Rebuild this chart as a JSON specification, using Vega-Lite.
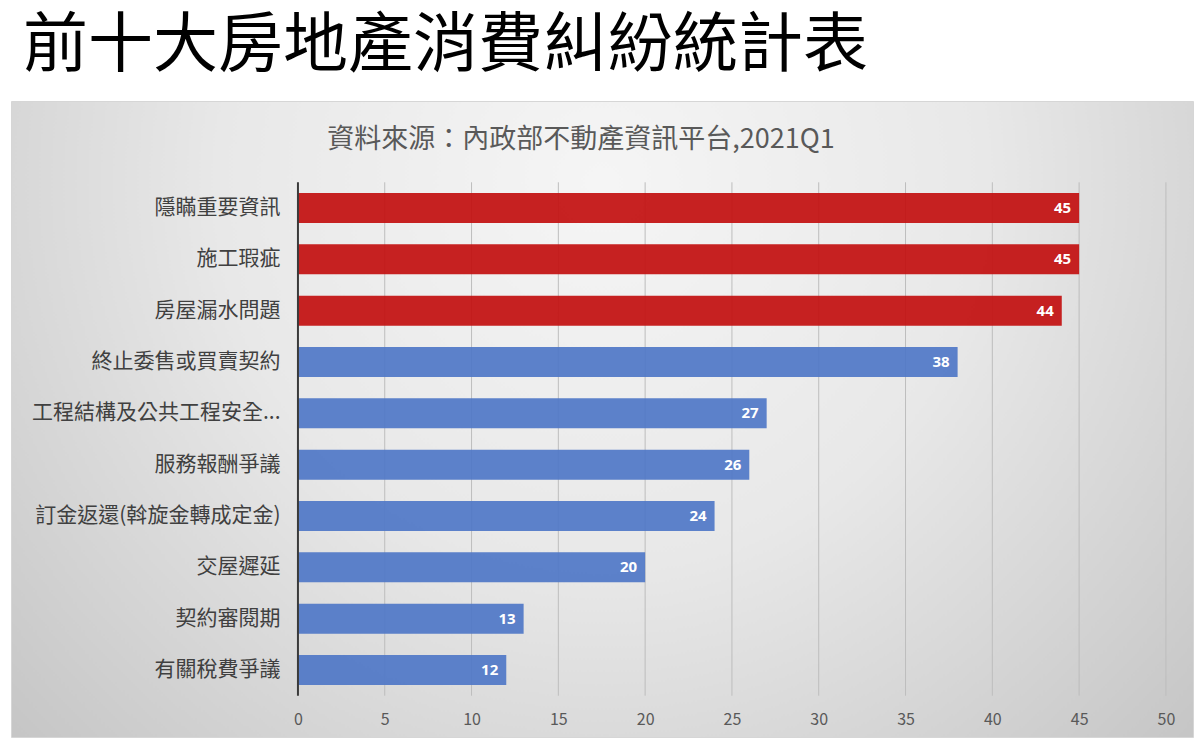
{
  "$schema": "https://vega.github.io/schema/vega-lite/v6.json",
  "background": "white",
  "padding": {"left": 10, "top": 13, "right": 8, "bottom": 5},
  "title": {
    "text": "前十大房地產消費糾紛統計表",
    "anchor": "start",
    "frame": "group",
    "baseline": "middle",
    "offset": -10,
    "dx": 12,
    "font": "Noto Sans CJK TC",
    "fontSize": 65,
    "fontWeight": "normal",
    "color": "#000000"
  },
  "datasets": {
    "disputes": [
      {"cat": "隱瞞重要資訊", "v": 45, "grp": "top"},
      {"cat": "施工瑕疵", "v": 45, "grp": "top"},
      {"cat": "房屋漏水問題", "v": 44, "grp": "top"},
      {"cat": "終止委售或買賣契約", "v": 38, "grp": "other"},
      {"cat": "工程結構及公共工程安全...", "v": 27, "grp": "other"},
      {"cat": "服務報酬爭議", "v": 26, "grp": "other"},
      {"cat": "訂金返還(斡旋金轉成定金)", "v": 24, "grp": "other"},
      {"cat": "交屋遲延", "v": 20, "grp": "other"},
      {"cat": "契約審閱期", "v": 13, "grp": "other"},
      {"cat": "有關稅費爭議", "v": 12, "grp": "other"}
    ],
    "grid": [
      {"v": 0, "top": "隱瞞重要資訊", "bottom": "有關稅費爭議"},
      {"v": 5, "top": "隱瞞重要資訊", "bottom": "有關稅費爭議"},
      {"v": 10, "top": "隱瞞重要資訊", "bottom": "有關稅費爭議"},
      {"v": 15, "top": "隱瞞重要資訊", "bottom": "有關稅費爭議"},
      {"v": 20, "top": "隱瞞重要資訊", "bottom": "有關稅費爭議"},
      {"v": 25, "top": "隱瞞重要資訊", "bottom": "有關稅費爭議"},
      {"v": 30, "top": "隱瞞重要資訊", "bottom": "有關稅費爭議"},
      {"v": 35, "top": "隱瞞重要資訊", "bottom": "有關稅費爭議"},
      {"v": 40, "top": "隱瞞重要資訊", "bottom": "有關稅費爭議"},
      {"v": 45, "top": "隱瞞重要資訊", "bottom": "有關稅費爭議"},
      {"v": 50, "top": "隱瞞重要資訊", "bottom": "有關稅費爭議"}
    ]
  },
  "vconcat": [
    {
      "width": 1182,
      "height": 636,
      "title": {
        "text": "資料來源：內政部不動產資訊平台,2021Q1",
        "anchor": "middle",
        "frame": "group",
        "baseline": "middle",
        "offset": -66,
        "dx": -21,
        "font": "Noto Sans CJK TC",
        "fontSize": 27,
        "fontWeight": "normal",
        "color": "#595959"
      },
      "view": {
        "fill": {
          "gradient": "radial",
          "x1": 0.5, "y1": 0.3, "r1": 0,
          "x2": 0.5, "y2": 0.3, "r2": 0.72,
          "stops": [
            {"offset": 0, "color": "#f5f5f5"},
            {"offset": 0.45, "color": "#e8e8e8"},
            {"offset": 1, "color": "#c2c2c2"}
          ]
        },
        "stroke": "#d6d6d6"
      },
      "encoding": {
        "x": {
          "field": "v",
          "type": "quantitative",
          "scale": {"domain": [-16.53, 51.56], "nice": false, "zero": false},
          "axis": {
            "values": [0, 5, 10, 15, 20, 25, 30, 35, 40, 45, 50],
            "title": null,
            "grid": false,
            "domain": false,
            "ticks": false,
            "tickSize": 0,
            "offset": -42,
            "labelPadding": 16,
            "labelFont": "Noto Sans CJK TC",
            "labelFontSize": 16,
            "labelColor": "#595959"
          }
        }
      },
      "layer": [
        {
          "data": {"name": "grid"},
          "transform": [{"filter": "datum.v > 0"}],
          "mark": {"type": "rule", "color": "#bdbdbd", "strokeWidth": 1},
          "encoding": {
            "y": {
              "field": "top",
              "type": "nominal",
              "bandPosition": -0.356,
              "scale": {"type": "band"},
              "axis": {
                "title": null,
                "domain": false,
                "ticks": false,
                "offset": -287,
                "labelPadding": 18,
                "labelFont": "Noto Sans CJK TC",
                "labelFontSize": 21,
                "labelColor": "#404040",
                "labelLimit": 0
              }
            },
            "y2": {"field": "bottom", "bandPosition": 1.356}
          }
        },
        {
          "data": {"name": "disputes"},
          "mark": {"type": "bar", "fillOpacity": 0.92},
          "encoding": {
            "y": {
              "field": "cat",
              "type": "nominal",
              "sort": null,
              "scale": {
                "type": "band",
                "domain": ["隱瞞重要資訊", "施工瑕疵", "房屋漏水問題", "終止委售或買賣契約", "工程結構及公共工程安全...", "服務報酬爭議", "訂金返還(斡旋金轉成定金)", "交屋遲延", "契約審閱期", "有關稅費爭議"],
                "range": [81.3, 594.7],
                "paddingInner": 0.4156,
                "paddingOuter": 0.2078
              },
              "axis": {
                "title": null,
                "domain": false,
                "ticks": false,
                "offset": -287,
                "labelPadding": 18,
                "labelFont": "Noto Sans CJK TC",
                "labelFontSize": 21,
                "labelColor": "#404040",
                "labelLimit": 0
              }
            },
            "color": {
              "field": "grp",
              "type": "nominal",
              "scale": {"domain": ["top", "other"], "range": ["#c20f0f", "#4f77c7"]},
              "legend": null
            }
          }
        },
        {
          "data": {"name": "disputes"},
          "mark": {"type": "text", "align": "right", "baseline": "middle", "dx": -8, "font": "Open Sans", "fontWeight": "bold", "fontSize": 15, "color": "#ffffff"},
          "encoding": {
            "y": {"field": "cat", "type": "nominal", "sort": null},
            "text": {"field": "v", "type": "quantitative"}
          }
        },
        {
          "data": {"name": "grid"},
          "transform": [{"filter": "datum.v === 0"}],
          "mark": {"type": "rule", "color": "#3a3a3a", "strokeWidth": 2},
          "encoding": {
            "y": {"field": "top", "type": "nominal", "bandPosition": -0.356},
            "y2": {"field": "bottom", "bandPosition": 1.356}
          }
        }
      ]
    }
  ]
}
